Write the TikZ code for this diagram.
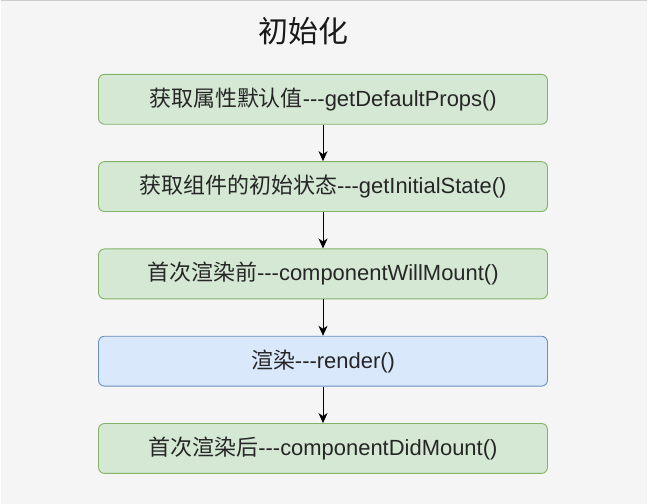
\documentclass[tikz,border=0pt]{standalone}
\usepackage{fontspec}
\setmainfont{Liberation Sans}[Ligatures=TeXOff]
\newfontfamily\cjk{Noto Sans CJK SC}[Ligatures=TeXOff]
\usetikzlibrary{arrows.meta}
\definecolor{bg}{HTML}{F5F5F5}
\definecolor{gfill}{HTML}{D5E8D4}
\definecolor{gline}{HTML}{82B366}
\definecolor{bfill}{HTML}{DAE8FC}
\definecolor{bline}{HTML}{6C8EBF}
\tikzset{
  stepbox/.style={draw=gline, fill=gfill, rounded corners=6pt, line width=0.9pt,
    minimum width=450pt, minimum height=50pt, inner sep=0pt,
    font=\fontsize{22pt}{24pt}\selectfont, text=black!85},
  bluebox/.style={stepbox, draw=bline, fill=bfill},
  flow/.style={-{Stealth[length=10pt,width=9pt,inset=3pt]}, line width=0.9pt, black}
}
\begin{document}
\begin{tikzpicture}[x=1pt,y=-1pt]
\fill[bg] (0,0) rectangle (648,505);
\draw[black!20, line width=1.5pt] (0,0.75) -- (648,0.75);
\useasboundingbox (0,0) rectangle (648,505);
\node[font=\cjk\fontsize{30pt}{34pt}\selectfont, text=black!90] (title) at (303,31) {初始化};
\node[stepbox] (a) at (323,99.5) {{\cjk 获取属性默认值}---getDefaultProps()};
\node[stepbox] (b) at (323,187) {{\cjk 获取组件的初始状态}---getInitialState()};
\node[stepbox] (c) at (323,274.5) {{\cjk 首次渲染前}---componentWillMount()};
\node[bluebox] (d) at (323,362) {{\cjk 渲染}---render()};
\node[stepbox] (e) at (323,449.5) {{\cjk 首次渲染后}---componentDidMount()};
\draw[flow] (a) -- (b);
\draw[flow] (b) -- (c);
\draw[flow] (c) -- (d);
\draw[flow] (d) -- (e);
\end{tikzpicture}
\end{document}
